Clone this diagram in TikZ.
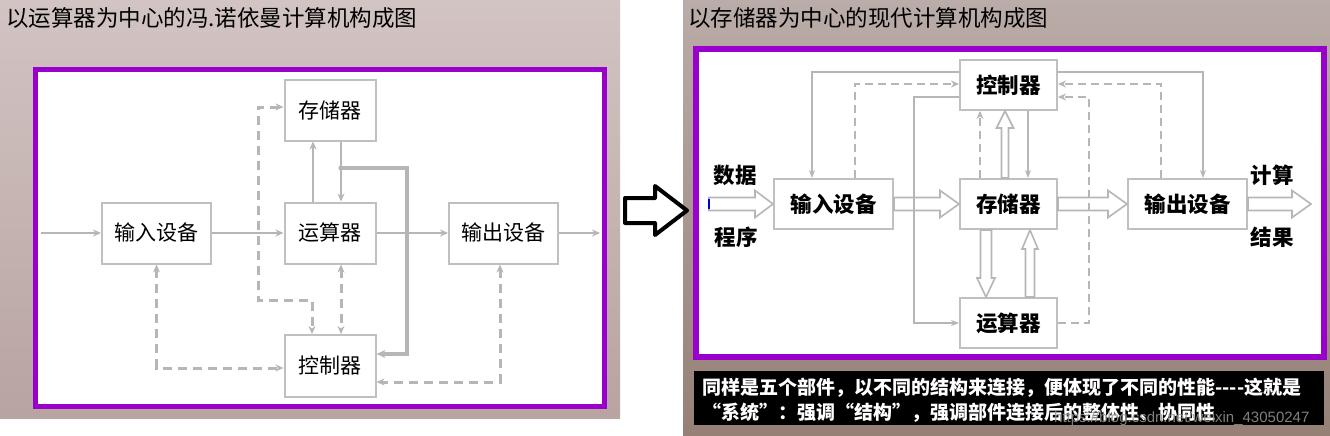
\documentclass[tikz,border=0pt]{standalone}
\usepackage{fontspec}
\setmainfont{Noto Sans CJK SC}
\newfontfamily\wmfont{Liberation Sans}
\usetikzlibrary{arrows.meta,calc}
\definecolor{purp}{RGB}{153,0,204}
\definecolor{lgray}{RGB}{182,182,182}
\definecolor{bxgray}{RGB}{192,192,192}
\definecolor{bgLt}{RGB}{210,196,195}
\definecolor{bgLb}{RGB}{184,164,160}
\definecolor{bgRt}{RGB}{186,172,168}
\definecolor{bgRb}{RGB}{150,128,118}
\definecolor{wmgray}{RGB}{150,150,150}
\tikzset{
  lbox/.style={draw=bxgray, line width=2pt, fill=white, inner sep=0pt, minimum height=61pt, font=\fontsize{21}{24}\selectfont},
  rbox/.style={draw=bxgray, line width=2pt, fill=white, inner sep=0pt, minimum height=50pt, font=\fontsize{21.5}{24}\selectfont\bfseries},
  lbl/.style={inner sep=0pt, font=\fontsize{21.5}{24}\selectfont\bfseries},
  arr/.style={draw=lgray, line width=2.5pt, -{Stealth[length=8pt,width=7pt]}},
  thk/.style={draw=lgray, line width=3.2pt, -{Stealth[length=9pt,width=8pt]}},
  dsh/.style={draw=lgray, line width=3pt, dash pattern=on 9pt off 6pt},
  rarr/.style={draw=lgray, line width=2pt, -{Stealth[length=8pt,width=6pt]}},
  rdsh/.style={draw=lgray, line width=2.5pt, dash pattern=on 8pt off 5pt},
  harr/.style={draw=lgray, line width=1.6pt, fill=white, line join=miter},
  >={Stealth[length=8pt,width=7pt]}
}
\newcommand{\hollowH}[5]{\draw[harr] let \p1=#1, \p2=#2 in
  ({\x1},{\y1+#3}) -- ({\x2-#5},{\y1+#3}) -- ({\x2-#5},{\y1+#4}) -- ({\x2},{\y1}) -- ({\x2-#5},{\y1-#4}) -- ({\x2-#5},{\y1-#3}) -- ({\x1},{\y1-#3}) -- cycle;}
\newcommand{\hollowV}[5]{\draw[harr] let \p1=#1, \p2=#2, \n1={(\y2-\y1)/abs(\y2-\y1)} in
  ({\x1+#3},{\y1}) -- ({\x1+#3},{\y2-(\n1)*#5}) -- ({\x1+#4},{\y2-(\n1)*#5}) -- ({\x1},{\y2}) -- ({\x1-#4},{\y2-(\n1)*#5}) -- ({\x1-#3},{\y2-(\n1)*#5}) -- ({\x1-#3},{\y1}) -- cycle;}
\begin{document}
\begin{tikzpicture}[x=1pt,y=-1pt]
\useasboundingbox (0,0) rectangle (1330,436);
\fill[white] (0,0) rectangle (1330,436);
% backgrounds
\shade[top color=bgLt, bottom color=bgLb] (0,0) rectangle (620,418);
\shade[top color=bgRt, bottom color=bgRb] (683,0) rectangle (1330,436);
% frames
\draw[purp, line width=5pt, fill=white] (35.5,69.5) rectangle (604,406);
\draw[purp, line width=6pt, fill=white] (696,49.5) rectangle (1324,356.5);
% titles
\node[anchor=west, inner sep=0pt, font=\fontsize{22.5}{26}\selectfont] (t1) at (6,18) {以运算器为中心的冯.诺依曼计算机构成图};
\node[anchor=west, inner sep=0pt, font=\fontsize{22.5}{26}\selectfont] (t2) at (688,18) {以存储器为中心的现代计算机构成图};
% central arrow
\draw[line width=4pt, fill=white, line join=round] (625,198) -- (655,198) -- (655,186) -- (687,210.5) -- (655,235) -- (655,223) -- (625,223) -- cycle;

% ---------- left diagram ----------
\node[lbox, minimum width=91pt] (mem) at (330,110) {存储器};
\node[lbox, minimum width=109pt] (in) at (156.5,233) {输入设备};
\node[lbox, minimum width=91pt] (alu) at (330,233) {运算器};
\node[lbox, minimum width=109pt] (out) at (503.5,233) {输出设备};
\node[lbox, minimum width=91pt, minimum height=62pt] (ctl) at (330,366) {控制器};
\coordinate (inS) at (41,233);
\coordinate (outE) at (600,233);
\coordinate (J) at (341,168);
\coordinate (K) at (407,168);
\coordinate (D1) at (258,300);

\draw[dsh,<->] ([yshift=3pt]mem.west) -| (D1) -| ([xshift=-18pt]ctl.north);
\draw[dsh,<->] ([xshift=11pt]alu.south) -- ([xshift=11pt]ctl.north);
\draw[dsh,<->] (in.south) |- ([yshift=-2pt]ctl.west);
\draw[dsh,<->] ([xshift=-3.5pt]out.south) |- ([yshift=-16pt]ctl.east);

\draw[arr] (inS) -- (in.west);
\draw[arr] (in.east) -- (alu.west);
\draw[arr] (alu.east) -- (out.west);
\draw[arr] (out.east) -- (outE);
\draw[arr] ([xshift=-17pt]alu.north) -- ([xshift=-17pt]mem.south);
\draw[arr] ([xshift=11pt]mem.south) -- ([xshift=11pt]alu.north);
\draw[thk] (J) -- (K) |- ([yshift=12pt]ctl.east);
\fill[lgray] (J) circle (2.6pt);

% ---------- right diagram ----------
\node[rbox, minimum width=97pt] (ctlR) at (1008.5,85) {控制器};
\node[rbox, minimum width=119pt] (inR) at (833.5,204) {输入设备};
\node[rbox, minimum width=97pt] (memR) at (1008.5,204) {存储器};
\node[rbox, minimum width=119pt] (outR) at (1187.5,204) {输出设备};
\node[rbox, minimum width=97pt] (aluR) at (1008.5,323) {运算器};
\node[lbl] (shuju) at (735,175) {数据};
\node[lbl] (chengxu) at (736,237) {程序};
\node[lbl] (jisuan) at (1272,175) {计算};
\node[lbl] (jieguo) at (1272,237) {结果};
\coordinate (srcR) at (709,204);
\coordinate (dstR) at (1311,204);
\coordinate (k1) at (914,323);
\coordinate (k2) at (1089,323);

\hollowH{(srcR)}{(inR.west)}{6.5pt}{13.5pt}{18pt}
\hollowH{(inR.east)}{(memR.west)}{6.5pt}{13.5pt}{19pt}
\hollowH{(memR.east)}{(outR.west)}{6.5pt}{13.5pt}{19pt}
\hollowH{(outR.east)}{(dstR)}{6.5pt}{13.5pt}{19pt}
\hollowV{([xshift=-3.5pt]memR.north)}{([xshift=-3.5pt]ctlR.south)}{3.5pt}{8.5pt}{17pt}
\hollowV{([xshift=-22.5pt]memR.south)}{([xshift=-22.5pt]aluR.north)}{5.5pt}{9pt}{19pt}
\hollowV{([xshift=21.5pt]aluR.north)}{([xshift=21.5pt]memR.south)}{4.5pt}{8pt}{19pt}
\draw[blue!85!black, line width=1.6pt] ([yshift=5pt]srcR) -- ([yshift=-5pt]srcR);

\draw[rarr] ([yshift=13pt]ctlR.west) -| ([xshift=-21.5pt]inR.north);
\draw[rarr] ([yshift=13pt]ctlR.east) -| ([xshift=15.5pt]outR.north);
\draw[rdsh,->] ([xshift=21.5pt]inR.north) |- ([yshift=1pt]ctlR.west);
\draw[rdsh,->] ([xshift=-26.5pt]outR.north) |- ([yshift=1pt]ctlR.east);
\draw[rarr] ([yshift=-12pt]ctlR.west) -| (k1) -- (aluR.west);
\draw[rdsh,->] (aluR.east) -- (k2) |- ([yshift=-12pt]ctlR.east);
\draw[rdsh,->] ([xshift=-28.5pt]memR.north) -- ([xshift=-28.5pt]ctlR.south);
\draw[rarr] ([xshift=19.5pt]ctlR.south) -- ([xshift=19.5pt]memR.north);

% caption
\fill[black] (694,371) rectangle (1324,425);
\node[anchor=west, inner sep=0pt, text=white, font=\fontsize{19}{22}\selectfont\bfseries] (cap1) at (702,387.5) {同样是五个部件，以不同的结构来连接，便体现了不同的性能-\kern0pt-\kern0pt-\kern0pt-这就是};
\node[anchor=west, inner sep=0pt, text=white, font=\fontsize{19}{22}\selectfont\bfseries] (cap2) at (702,413) {“系统”：强调“结构”，强调部件连接后的整体性、协同性};
\node[anchor=west, inner sep=0pt, text=wmgray, opacity=0.85, font=\wmfont\fontsize{15}{17}\selectfont] (wm) at (1054,419) {https://blog.csdn.net/weixin\_43050247};
\end{tikzpicture}
\end{document}
